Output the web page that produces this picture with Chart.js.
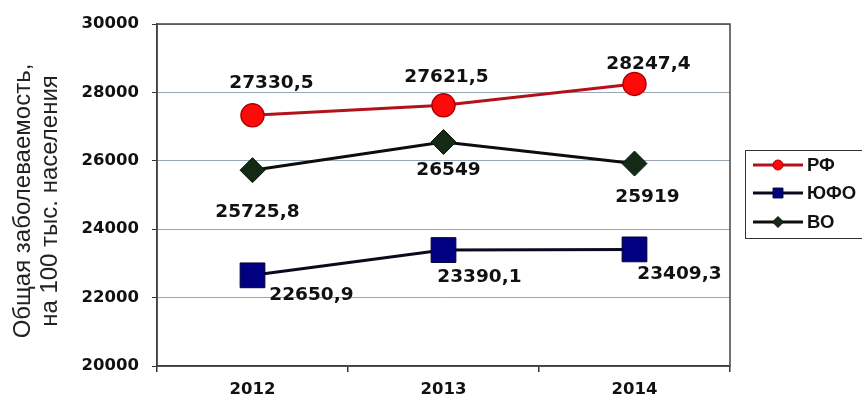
<!DOCTYPE html>
<html lang="ru">
<head>
<meta charset="utf-8">
<title>Общая заболеваемость</title>
<script src="https://cdn.jsdelivr.net/npm/chart.js@4/dist/chart.umd.min.js"></script>
<style>
  html, body { margin: 0; padding: 0; background: #fff; }
  #wrap { width: 862px; height: 399px; position: relative; }
</style>
</head>
<body>
<div id="wrap"><canvas id="chart" width="862" height="399"></canvas></div>
<script>
// Years on the horizontal axis
const years = ['2012', '2013', '2014'];

// Total morbidity per 100 thousand population
const rfValues   = [27330.5, 27621.5, 28247.4];   // РФ
const yufoValues = [22650.9, 23390.1, 23409.3];   // ЮФО
const voValues   = [25725.8, 26549, 25919];       // ВО

// Vertical axis range and step
const yMin = 20000;
const yMax = 30000;
const yStep = 2000;

const seriesNames = ['РФ', 'ЮФО', 'ВО'];
const axisTitle = ['Общая заболеваемость,', 'на 100 тыс. населения'];

// Where each value label sits relative to its point (dx, dy in px)
const labelOffsets = [
  [[19, -32], [3, -28], [14, -20]],
  [[59, 20], [36, 27], [45, 25]],
  [[5, 42], [5, 28], [13, 34]]
];

const tickFont = { family: '"DejaVu Sans", sans-serif', size: 16.5, weight: 'bold' };
const labelFont = 'bold 18.5px "DejaVu Sans", sans-serif';

function formatValue(v) {
  return String(v).replace('.', ',');
}

// Dark frame around the plotting area
const framePlugin = {
  id: 'frame',
  beforeDatasetsDraw(chart) {
    const { ctx, chartArea: a } = chart;
    ctx.save();
    ctx.strokeStyle = '#444';
    ctx.lineWidth = 1.5;
    ctx.strokeRect(a.left, a.top, a.right - a.left, a.bottom - a.top);
    ctx.restore();
  }
};

// Rotated two-line title of the value axis
const yTitle = {
  id: 'yTitle',
  afterDraw(chart) {
    const { ctx } = chart;
    ctx.save();
    ctx.font = '24px "Liberation Sans", Arial, sans-serif';
    ctx.fillStyle = '#222';
    ctx.textAlign = 'center';
    ctx.textBaseline = 'middle';
    const xs = [23, 50];
    axisTitle.forEach((line, i) => {
      ctx.save();
      ctx.translate(xs[i], 201);
      ctx.rotate(-Math.PI / 2);
      ctx.fillText(line, 0, 0);
      ctx.restore();
    });
    ctx.restore();
  }
};

// Value labels next to each point
const valueLabels = {
  id: 'valueLabels',
  afterDatasetsDraw(chart) {
    const { ctx } = chart;
    ctx.save();
    ctx.font = labelFont;
    ctx.fillStyle = '#111';
    ctx.textAlign = 'center';
    ctx.textBaseline = 'middle';
    chart.data.datasets.forEach((ds, di) => {
      const meta = chart.getDatasetMeta(di);
      meta.data.forEach((pt, i) => {
        const off = labelOffsets[di][i];
        ctx.fillText(formatValue(ds.data[i]), pt.x + off[0], pt.y + off[1]);
      });
    });
    ctx.restore();
  }
};

// Boxed legend on the right: line sample with a small marker, then the name
const boxLegend = {
  id: 'boxLegend',
  afterDraw(chart) {
    const { ctx } = chart;
    const boxX = 745, boxY = 150, boxW = 130, boxH = 88;
    const rowY = [165, 193, 222];
    const markerR = [5, 7, 5.5];
    ctx.save();
    ctx.strokeStyle = '#333';
    ctx.lineWidth = 1;
    ctx.strokeRect(boxX + 0.5, boxY + 0.5, boxW, boxH);
    chart.data.datasets.forEach((ds, i) => {
      const y = rowY[i];
      ctx.strokeStyle = ds.borderColor;
      ctx.lineWidth = 3;
      ctx.beginPath();
      ctx.moveTo(753, y);
      ctx.lineTo(803, y);
      ctx.stroke();
      const opts = {
        pointStyle: ds.pointStyle,
        radius: markerR[i],
        borderWidth: 1,
        rotation: 0
      };
      ctx.fillStyle = ds.pointBackgroundColor;
      ctx.strokeStyle = ds.pointBorderColor;
      ctx.lineWidth = 1;
      Chart.helpers.drawPoint(ctx, opts, 778, y);
      ctx.fillStyle = '#111';
      ctx.font = 'bold 18.5px "Liberation Sans", Arial, sans-serif';
      ctx.textAlign = 'left';
      ctx.textBaseline = 'middle';
      ctx.fillText(ds.label, 807, y + 1);
    });
    ctx.restore();
  }
};

new Chart(document.getElementById('chart'), {
  type: 'line',
  data: {
    labels: years,
    datasets: [
      {
        label: seriesNames[0],
        data: rfValues,
        borderColor: '#b3121a',
        borderWidth: 3,
        pointStyle: 'circle',
        pointRadius: 11.5,
        pointBackgroundColor: '#ff0a0a',
        pointBorderColor: '#b00000',
        pointBorderWidth: 1.5,
        tension: 0
      },
      {
        label: seriesNames[1],
        data: yufoValues,
        borderColor: '#0a0a1e',
        borderWidth: 3,
        pointStyle: 'rect',
        pointRadius: 17.5,
        pointBackgroundColor: '#000080',
        pointBorderColor: '#000033',
        pointBorderWidth: 1,
        tension: 0
      },
      {
        label: seriesNames[2],
        data: voValues,
        borderColor: '#0d0d0d',
        borderWidth: 3,
        pointStyle: 'rectRot',
        pointRadius: 12.5,
        pointBackgroundColor: '#152a15',
        pointBorderColor: '#0a140a',
        pointBorderWidth: 1,
        tension: 0
      }
    ]
  },
  options: {
    responsive: false,
    animation: false,
    events: [],
    layout: { padding: { left: 0, right: 132, top: 24, bottom: 0 } },
    plugins: {
      legend: { display: false },
      tooltip: { enabled: false },
      title: { display: false }
    },
    scales: {
      x: {
        type: 'category',
        offset: true,
        grid: {
          offset: true,
          drawOnChartArea: false,
          drawTicks: true,
          tickLength: 6,
          tickColor: '#333',
          lineWidth: 1.5
        },
        border: { color: '#333', width: 1.5 },
        ticks: { color: '#111', font: tickFont, padding: 8 },
        afterFit(scale) { scale.height = 33; }
      },
      y: {
        min: yMin,
        max: yMax,
        grid: {
          color: '#9aa8b4',
          lineWidth: 1,
          drawTicks: true,
          tickLength: 5,
          tickColor: '#333'
        },
        border: { color: '#333', width: 1.5 },
        ticks: {
          stepSize: yStep,
          color: '#111',
          font: tickFont,
          padding: 13,
          callback: (v) => String(v)
        },
        title: { display: false },
        afterFit(scale) { scale.width = 157; }
      }
    }
  },
  plugins: [framePlugin, valueLabels, boxLegend, yTitle]
});
</script>
</body>
</html>
